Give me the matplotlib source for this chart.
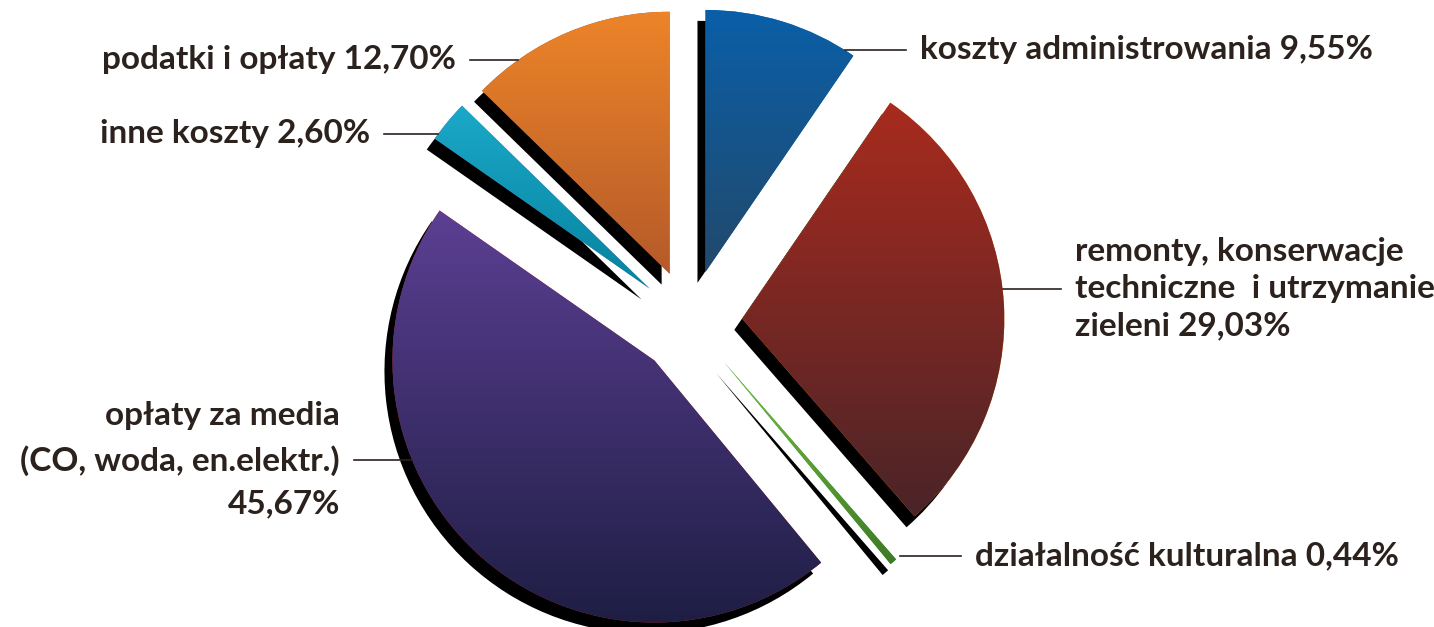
import numpy as np
import matplotlib.pyplot as plt
from matplotlib.colors import LinearSegmentedColormap

# structure of costs (percent)
labels = ['koszty administrowania 9,55%',
          'remonty, konserwacje\ntechniczne  i utrzymanie\nzieleni 29,03%',
          'działalność kulturalna 0,44%',
          'opłaty za media\n(CO, woda, en.elektr.)\n45,67%',
          'inne koszty 2,60%',
          'podatki i opłaty 12,70%']
shares = [9.55, 29.03, 0.44, 45.67, 2.60, 12.70]
top_colors = ['#0a5fa8', '#a82b1e', '#7cc043', '#5c3f93', '#1ba8c8', '#ec8428']
bottom_colors = ['#22496b', '#4a2428', '#3d7a26', '#1e1e44', '#06839f', '#b55a2a']

# label placement in pixels: (x, y, side, linespacing)
label_pos = [(920, 50, 'left', 1.0), (1075, 289, 'left', 1.34),
             (975, 556, 'left', 1.0), (340, 460, 'right', 1.58),
             (370, 134, 'right', 1.0), (456, 60, 'right', 1.0)]

W, H = 1434, 627
CX, CY, RPX = 690, 322, 262   # pie centre and radius in pixels


def to_data(px, py):
    return (px - CX) / RPX, (CY - py) / RPX


fig = plt.figure(figsize=(W / 100, H / 100), dpi=100)
ax = fig.add_axes([0, 0, 1, 1])

wedges, _ = ax.pie(shares, explode=[0.2] * len(shares), startangle=90,
                   counterclock=False, radius=1,
                   shadow={'ox': -0.022, 'oy': -0.03, 'shade': 1.0,
                           'alpha': 1.0},
                   wedgeprops={'linewidth': 0})

# vertical gradient inside every slice
grad = np.linspace(0, 1, 256).reshape(-1, 1)
for w, c0, c1 in zip(wedges, bottom_colors, top_colors):
    v = w.get_path().vertices
    cmap = LinearSegmentedColormap.from_list('g', [c0, c1])
    im = ax.imshow(grad, extent=(v[:, 0].min(), v[:, 0].max(),
                                 v[:, 1].min(), v[:, 1].max()),
                   origin='lower', cmap=cmap, aspect='auto', zorder=3)
    im.set_clip_path(w)

# labels with horizontal leader lines
txt_color = '#2b211d'
for w, lab, (px, py, side, ls) in zip(wedges, labels, label_pos):
    tx, ty = to_data(px, py)
    cx, cy = w.center
    dy = ty - cy
    dx = np.sqrt(max(w.r ** 2 - dy ** 2, 0))
    if side == 'left':
        x_arc = cx + dx
        x_end = tx - 14 / RPX
        ha = 'left'
    else:
        x_arc = cx - dx
        x_end = tx + 14 / RPX
        ha = 'right'
    ax.plot([x_arc, x_end], [ty, ty], color=txt_color, lw=1.2, zorder=4)
    ax.text(tx, ty, lab, ha=ha, va='center', multialignment=ha,
            fontsize=24, fontweight='bold', color=txt_color,
            family=['Lato', 'DejaVu Sans'], linespacing=ls)

ax.set_xlim(-CX / RPX, (W - CX) / RPX)
ax.set_ylim(-(H - CY) / RPX, CY / RPX)
ax.set_aspect('equal')
ax.axis('off')

fig.savefig('out.png', dpi=100, facecolor='white')
